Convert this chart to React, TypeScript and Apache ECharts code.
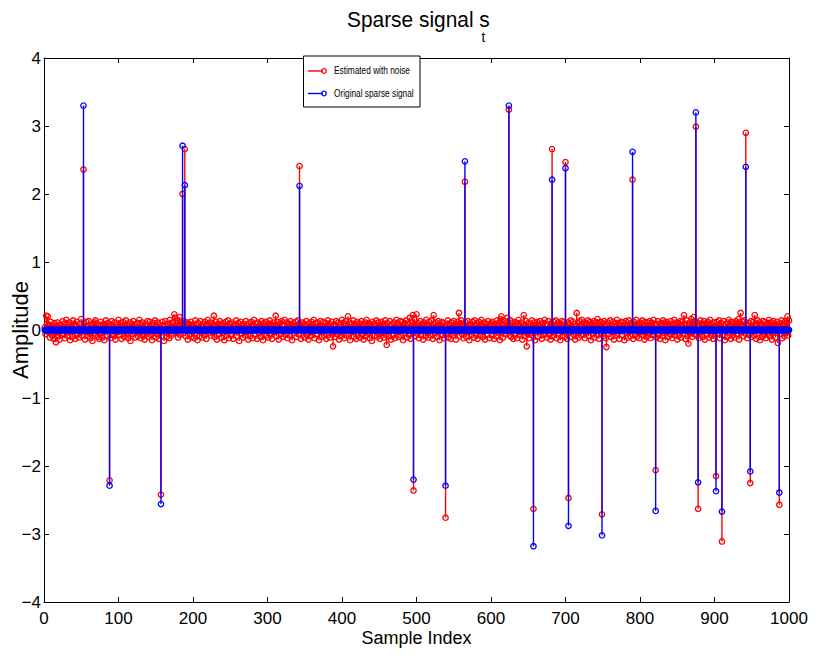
import React, { useEffect, useRef } from "react";
import * as echarts from "echarts";

// ---- data ----
const spikeIndex = [53, 88, 157, 186, 189, 343, 496, 539, 565, 624, 657, 682, 700, 704, 749, 790, 821, 875, 878, 902, 910, 942, 948, 987];
const spikeOriginal = [3.30, -2.29, -2.56, 2.71, 2.13, 2.12, -2.20, -2.29, 2.48, 3.30, -3.18, 2.21, 2.38, -2.88, -3.02, 2.62, -2.66, 3.20, -2.24, -2.37, -2.67, 2.40, -2.08, -2.39];
const spikeEstimated = [2.36, -2.21, -2.42, 2.00, 2.66, 2.41, -2.36, -2.76, 2.18, 3.24, -2.63, 2.66, 2.47, -2.47, -2.71, 2.21, -2.06, 2.99, -2.63, -2.15, -3.11, 2.90, -2.25, -2.57];

// estimated-signal noise at samples 1..1000, in hundredths
const noiseHundredths = [
  4, -6, 21, 9, 20, -3, 7, -11, 12, 2, -8, 5, -13, 10, -4, -18, 6, 11, -9, 3, -14, 8, 1, -7, 13,
  -5, 9, -12, 4, 15, -2, -9, 7, 11, -15, 3, 6, -10, 14, -1, 8, -13, 5, 12, -6, 2, -11, 9, -4, 16,
  -8, 3, 0, 10, -14, 6, 12, -3, -9, 13, 1, -12, 7, 4, -16, 9, -5, 11, 14, -7, 2, -10, 8, -13, 5,
  12, -4, -11, 6, 9, -15, 3, 14, -2, -8, 10, 5, 0, -12, 7, 13, -6, 2, -9, 11, -14, 4, 8, -3, 15,
  -7, 1, 10, -13, 6, 12, -5, -10, 3, 14, -1, 8, -12, 5, 11, -16, 2, 9, -6, 13, -4, 7, -11, 0, 10,
  -9, 4, 15, -3, -12, 7, 11, -8, 2, -14, 9, 6, -5, 13, -10, 1, 12, -7, 8, -15, 3, 10, -2, 14, -11,
  5, -6, 11, -13, 8, 2, 0, -9, 12, 4, -16, 7, 13, -4, -10, 9, 1, -12, 15, 6, -8, 3, 11, -5, 23,
  18, -3, 10, 14, -11, 6, 19, -7, 12, 8, 0, -5, 13, 0, -9, 4, 11, -14, 2, 9, -6, 12, -10, 5, 7,
  -12, 3, 14, -4, 8, -15, 10, 1, -9, 13, 6, -11, 4, 9, -7, 12, -2, -13, 7, 15, -5, 2, 11, -8, 10,
  -3, 8, 21, -10, 5, 12, -14, 3, 9, -6, 13, 1, -11, 7, 10, -4, -15, 6, 12, -8, 2, 14, -12, 4, 9,
  -7, 11, 3, -13, 8, 6, -2, 14, -9, 5, 10, -16, 1, 12, -5, 7, -11, 9, 4, -8, 13, -3, 6, -14, 10,
  2, -9, 12, 7, -12, 4, 15, -6, 1, 9, -13, 11, 5, -4, 8, -10, 13, 3, -15, 10, -1, 6, 12, -8, 4,
  -11, 9, 14, -5, 2, -13, 7, 11, -3, 8, 21, -9, 5, 12, -14, 3, 10, -6, 13, -2, -10, 6, 15, -7, 1,
  11, -12, 4, 9, -8, 13, 2, -15, 7, 10, -4, 6, 12, -10, 3, 14, -6, 0, 8, -13, 5, 11, -2, 9, -11,
  6, 13, -7, 2, -14, 10, 4, -9, 12, 8, -3, 15, -12, 1, 9, -6, 11, 5, -15, 7, 13, -1, -10, 4, 12,
  -8, 3, 10, -13, 6, 14, -4, 9, -11, 2, 12, -7, -24, 8, 5, -10, 13, 1, -6, 11, -14, 7, 4, -9, 15,
  -3, 10, -12, 6, 13, -8, 2, 20, -5, 11, -15, 4, 9, -2, 14, -10, 7, 1, -13, 12, 5, -7, 10, -11, 3,
  13, -6, 8, -14, 2, 11, -9, 15, 5, -4, 10, -12, 7, 3, -16, 12, -1, 9, -8, 6, 14, -10, 4, 11, -5,
  -13, 7, 12, -3, 9, -11, 5, 14, -7, -22, 10, 2, -9, 13, 6, -14, 8, 1, -6, 11, -12, 4, 15, -2, 9,
  -10, 5, 13, -8, 3, 12, -15, 7, 10, -4, 14, -11, 2, 9, -6, 18, -13, 6, 11, 22, -3, 16, -9, 8, 23,
  -5, 10, -12, 4, 13, -7, 8, 2, -14, 11, 6, -9, 15, -3, 7, -11, 12, 1, -8, 14, 5, -13, 22, 9, -4,
  11, -10, 6, 13, -2, -15, 8, 3, 12, -7, 10, -12, 5, 0, -6, 9, 14, -11, 2, 7, -13, 11, 4, -8, 13,
  -4, 9, -14, 6, 12, 3, 25, -9, 10, 14, -6, 2, -12, 8, 0, 11, -10, 5, 13, -3, -15, 7, 9, -7, 12,
  2, -11, 14, 6, -5, 10, -13, 4, 12, -8, 8, 15, -2, -10, 5, 11, -14, 3, 9, -6, 13, 1, -12, 7, 10,
  -7, 12, 4, -13, 9, 2, -9, 14, 6, -4, 11, -15, 16, 20, 3, -11, 8, 13, -6, 10, -2, 18, 5, 0, -8,
  14, -10, 3, 11, -13, 7, 12, -5, 9, -12, 2, 15, -7, 6, -3, 11, -14, 8, 22, 4, -9, 13, -24, -6, 10,
  -12, 5, 9, -4, 14, -8, 0, 11, -15, 7, 3, 12, -10, 6, -2, 13, 9, -13, 4, 10, -7, 15, -5, 1, -11,
  8, 13, -6, 3, -14, 10, 0, -9, 12, 6, -3, 14, -12, 7, 11, -5, 2, -15, 9, 13, -8, 4, 12, -10, 0,
  5, -13, 11, 0, 8, -4, 14, -10, 3, 12, -7, 9, -14, 6, 25, -2, 10, -11, 13, 4, -8, 15, -6, 2, 11,
  -12, 7, 10, -3, 14, -9, 4, 12, -15, 6, 9, -5, 13, -11, 2, 11, -7, 16, 3, -13, 8, 12, -4, 0, 10,
  -9, 13, 5, -12, -25, 8, 11, -6, 3, 14, -10, 7, -2, 12, -14, 9, 4, -8, 15, -5, 10, -13, 6, 1, 12,
  -7, 11, 3, -15, 9, 13, -4, 6, -11, 14, 2, -9, 10, 7, 0, -13, 12, 5, -6, 15, -10, 8, 4, -12, 11,
  -3, 9, 14, -8, 6, -14, 12, 2, -10, 11, 7, -5, 13, -12, 4, 10, -7, 15, -2, 8, 0, -11, 9, 13, -6,
  3, -13, 10, 6, -9, 14, -4, 11, -15, 7, 12, 1, -10, 9, -6, 13, 5, -12, 8, -3, 15, -8, 2, 11, -14,
  6, 10, -7, 13, -11, 4, 12, -5, 22, 8, -13, 3, 14, -9, -20, 7, 11, -4, 16, -10, 9, 19, -6, 12, 0,
  -8, 11, 0, -12, 5, 14, -3, 9, -10, 7, 13, -14, 2, 10, -6, 12, 4, -11, 15, -7, 8, -2, -13, 11, 6,
  -9, 0, 12, -5, 8, 14, -12, 3, 10, 0, -7, 13, 6, -15, 9, 2, -10, 11, 15, -4, 7, -13, 12, 5, -8,
  10, -11, 4, 13, -6, 9, 16, -14, 11, 25, -3, 7, 12, -9, 14, -5, 0, 8, -12, 6, 10, -7, 0, 13, -10,
  3, 12, -8, 22, 6, -13, 9, 14, -4, 11, -15, 5, 8, -10, 13, 2, -7, 12, -12, 7, 10, -5, 15, -9, 4,
  11, -14, 6, 13, -3, 9, -11, 7, 12, -19, 5, 0, 10, -6, 14, -12, 8, 3, -9, 13, -4, 11, 20, -8, 14,
];

const seriesNames = ["Estimated with noise", "Original sparse signal"];
const seriesColors = ["#ff0000", "#0000ff"];

const estimatedData: number[][] = [];
const originalData: number[][] = [];
noiseHundredths.forEach((v, i) => {
  const idx = i + 1;
  const k = spikeIndex.indexOf(idx);
  estimatedData.push([idx, k >= 0 ? spikeEstimated[k] : v / 100]);
  originalData.push([idx, k >= 0 ? spikeOriginal[k] : 0]);
});

const FONT = "'Liberation Sans', Arial, Helvetica, sans-serif";

function stemRenderer(color: string) {
  return (params: any, api: any) => {
    const x = api.value(0);
    const y = api.value(1);
    const base = api.coord([x, 0]);
    const tip = api.coord([x, y]);
    return {
      type: "group",
      children: [
        {
          type: "line",
          shape: { x1: base[0], y1: base[1], x2: tip[0], y2: tip[1] },
          style: { stroke: color, lineWidth: 1.4 },
        },
        {
          type: "circle",
          shape: { cx: tip[0], cy: tip[1], r: 2.7 },
          style: { fill: "none", stroke: color, lineWidth: 1.3 },
        },
      ],
    };
  };
}

export default function App() {
  const ref = useRef<HTMLDivElement>(null);
  useEffect(() => {
    if (!ref.current) return;
    const chart = echarts.init(ref.current, undefined, { renderer: "svg" });
    const axisLine = { show: true, onZero: false, lineStyle: { color: "#000", width: 1 } };
    const tick = { show: true, inside: true, length: 5, lineStyle: { color: "#000", width: 1 } };
    const fmt = (v: number) => (v < 0 ? "\u2212" + Math.abs(v) : String(v));
    chart.setOption({
      animation: false,
      backgroundColor: "#fff",
      grid: { left: 44, right: 26, top: 58, bottom: 53, containLabel: false, outerBoundsMode: "none" },
      xAxis: [
        {
          type: "value", min: 0, max: 1000, interval: 100, position: "bottom",
          axisLine, axisTick: tick, splitLine: { show: false },
          axisLabel: { color: "#000", fontSize: 17, fontFamily: FONT, margin: 8, formatter: (v: number) => String(v) },
          name: "Sample Index", nameLocation: "middle", nameGap: 27, nameMoveOverlap: false,
          nameTextStyle: { color: "#000", fontSize: 18, fontFamily: FONT },
        },
        {
          type: "value", min: 0, max: 1000, interval: 100, position: "top",
          axisLine, axisTick: tick, splitLine: { show: false }, axisLabel: { show: false },
        },
      ],
      yAxis: [
        {
          type: "value", min: -4, max: 4, interval: 1, position: "left",
          axisLine, axisTick: tick, splitLine: { show: false },
          axisLabel: { color: "#000", fontSize: 17, fontFamily: FONT, margin: 3, formatter: fmt },
          name: "Amplitude", nameLocation: "middle", nameGap: 13, nameMoveOverlap: false,
          nameTextStyle: { color: "#000", fontSize: 22, fontFamily: FONT },
        },
        {
          type: "value", min: -4, max: 4, interval: 1, position: "right",
          axisLine, axisTick: tick, splitLine: { show: false }, axisLabel: { show: false },
        },
      ],
      series: [
        {
          name: seriesNames[0], type: "custom", xAxisIndex: 0, yAxisIndex: 0,
          data: estimatedData, renderItem: stemRenderer(seriesColors[0]), progressive: 0, z: 2,
        },
        {
          name: seriesNames[1], type: "custom", xAxisIndex: 0, yAxisIndex: 0,
          data: originalData, renderItem: stemRenderer(seriesColors[1]), progressive: 0, z: 3,
        },
      ],
      graphic: [
        { type: "text", x: 347, y: 20, scaleX: 0.95, style: { text: "Sparse signal s", fontSize: 22, fontFamily: FONT, fill: "#000", verticalAlign: "middle" } },
        { type: "text", x: 481.5, y: 36.5, scaleX: 0.9, style: { text: "t", fontSize: 15, fontFamily: FONT, fill: "#000", verticalAlign: "middle" } },
        { type: "rect", z: 100, shape: { x: 303.5, y: 56, width: 116.5, height: 51 }, style: { fill: "#fff", stroke: "#000", lineWidth: 1 } },
        { type: "line", z: 101, shape: { x1: 308, y1: 71, x2: 323, y2: 71 }, style: { stroke: seriesColors[0], lineWidth: 1.4 } },
        { type: "circle", z: 101, shape: { cx: 324, cy: 71, r: 2.3 }, style: { fill: "none", stroke: seriesColors[0], lineWidth: 1.3 } },
        { type: "text", z: 101, x: 334, y: 71, scaleX: 0.83, style: { text: seriesNames[0], fontSize: 10, fontFamily: FONT, fill: "#000", verticalAlign: "middle" } },
        { type: "line", z: 101, shape: { x1: 308, y1: 93.5, x2: 323, y2: 93.5 }, style: { stroke: seriesColors[1], lineWidth: 1.4 } },
        { type: "circle", z: 101, shape: { cx: 324, cy: 93.5, r: 2.3 }, style: { fill: "none", stroke: seriesColors[1], lineWidth: 1.3 } },
        { type: "text", z: 101, x: 334, y: 93.5, scaleX: 0.83, style: { text: seriesNames[1], fontSize: 10, fontFamily: FONT, fill: "#000", verticalAlign: "middle" } },
      ],
    });
    return () => chart.dispose();
  }, []);
  return (
    <div
      ref={ref}
      style={{ position: "fixed", left: 0, top: 0, width: 815, height: 655, background: "#fff" }}
    />
  );
}
